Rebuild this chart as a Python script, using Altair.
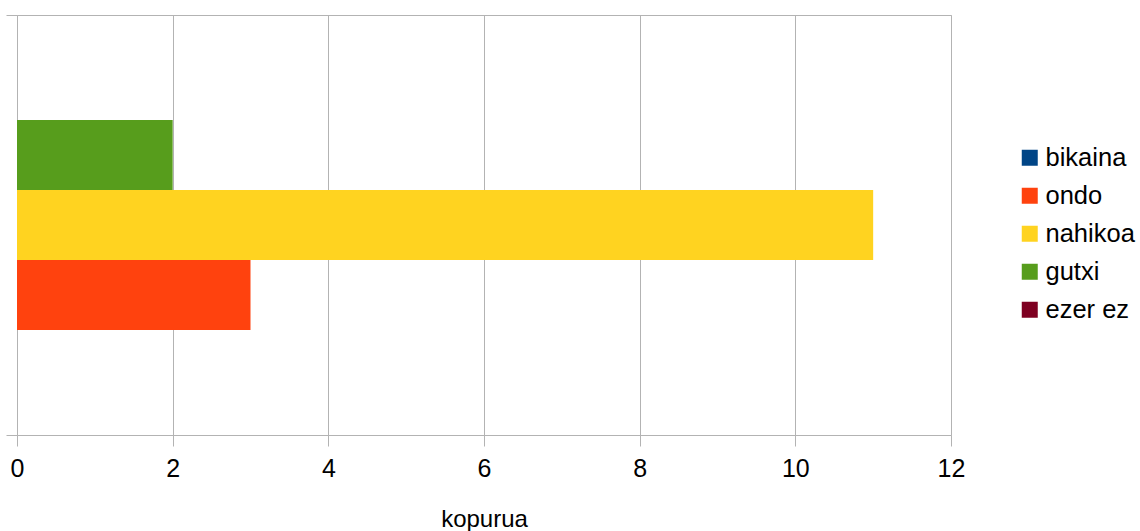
import altair as alt
import pandas as pd

series = ["bikaina", "ondo", "nahikoa", "gutxi", "ezer ez"]
values = [0, 3, 11, 2, 0]
colors = ["#004586", "#ff420e", "#ffd320", "#579d1c", "#7e0021"]
category = [""] * 5
x_ticks = [0, 2, 4, 6, 8, 10, 12]

df = pd.DataFrame({"cat": category, "series": series, "kopurua": values})

chart = alt.Chart(df).mark_bar().encode(
    x=alt.X("kopurua:Q",
            scale=alt.Scale(domain=[0, 12], nice=False),
            axis=alt.Axis(values=x_ticks, title="kopurua", grid=True,
                          gridColor="#b3b3b3", tickColor="#b3b3b3", tickSize=11,
                          domain=False, labelFontSize=25, labelColor="#000000",
                          labelFont="Liberation Sans", labelPadding=10,
                          labelFlush=False,
                          titleFont="Liberation Sans", titleFontSize=24,
                          titleFontWeight="normal", titleColor="#000000",
                          titlePadding=26)),
    y=alt.Y("cat:N", scale=alt.Scale(paddingInner=0, paddingOuter=0),
            axis=alt.Axis(title=None, labels=False, tickBand="extent",
                          tickColor="#b3b3b3", tickSize=11, domain=False, grid=False)),
    yOffset=alt.YOffset("series:N",
                        sort=["ezer ez", "gutxi", "nahikoa", "ondo", "bikaina"],
                        scale=alt.Scale(paddingInner=0, paddingOuter=0.5)),
    color=alt.Color("series:N",
                    scale=alt.Scale(domain=series, range=colors),
                    legend=alt.Legend(title=None, orient="none", legendX=1000, legendY=130,
                                      symbolType="square", symbolSize=256,
                                      symbolStrokeWidth=0, labelFontSize=25.5,
                                      labelFont="Liberation Sans", labelColor="#000000",
                                      labelOffset=3, rowPadding=11, padding=0)),
).properties(
    width=934, height=420,
    autosize=alt.AutoSizeParams(type="none"),
    padding={"left": 17, "top": 15, "right": 189, "bottom": 96},
).configure_view(
    stroke="#b3b3b3", strokeWidth=1
).configure_bar(
    stroke=None
)

chart.save("out.html", embed_options={"renderer": "svg", "actions": False})
